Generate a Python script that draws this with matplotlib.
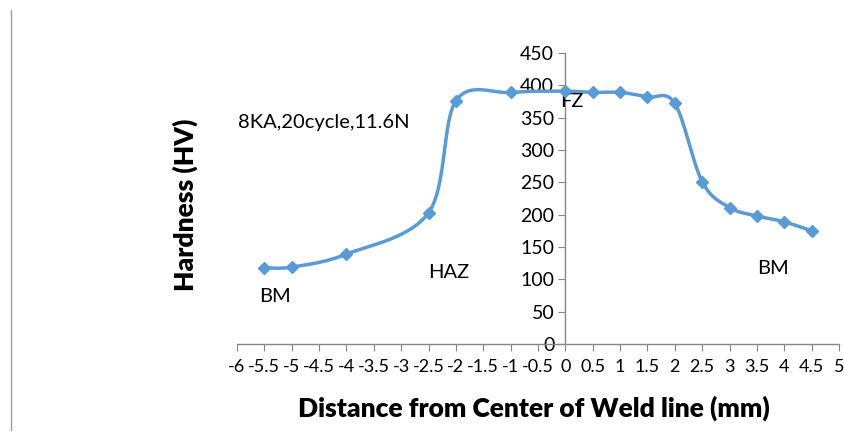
import matplotlib.pyplot as plt
from matplotlib.lines import Line2D
import numpy as np

plt.rcParams['font.family'] = ['Lato', 'DejaVu Sans']

# hardness readings across the weld
distance = [-5.5, -5, -4, -2.5, -2, -1, 0, 0.5, 1, 1.5, 2, 2.5, 3, 3.5, 4, 4.5]
hardness = [118, 119, 139, 203, 376, 389, 391, 389, 389, 382, 372, 251, 211, 198, 189, 175]

xticks = np.arange(-6, 5.01, 0.5)
xticklabels = ['%g' % t for t in xticks]
yticks = np.arange(0, 451, 50)

zones = [('BM', -5.6, 73), ('HAZ', -2.5, 110), ('FZ', -0.1, 375), ('BM', 3.5, 117)]
condition = '8KA,20cycle,11.6N'

blue = '#5B9BD5'


def excel_smooth(xs, ys, n=30):
    # bezier smoothing like a spreadsheet "smoothed line"
    p = np.column_stack([xs, ys]).astype(float)
    pts = []
    for i in range(len(p) - 1):
        p0 = p[i - 1] if i > 0 else p[i]
        p3 = p[i + 2] if i + 2 < len(p) else p[i + 1]
        c1 = p[i] + (p[i + 1] - p0) / 6
        c2 = p[i + 1] - (p3 - p[i]) / 6
        t = np.linspace(0, 1, n)[:, None]
        seg = ((1 - t) ** 3 * p[i] + 3 * (1 - t) ** 2 * t * c1
               + 3 * (1 - t) * t ** 2 * c2 + t ** 3 * p[i + 1])
        pts.append(seg)
    pts = np.vstack(pts)
    return pts[:, 0], pts[:, 1]


fig = plt.figure(figsize=(8.44, 4.41), dpi=100)
ax = fig.add_axes([237 / 844, 1 - 344 / 441, 602 / 844, 291 / 441])

sx, sy = excel_smooth(distance, hardness)
ax.plot(sx, sy, color=blue, lw=2.5, zorder=3)
ax.plot(distance, hardness, ls='none', marker='D', ms=6.5, color=blue, zorder=4)

ax.set_xlim(-6, 5)
ax.set_ylim(0, 450)
ax.spines['top'].set_visible(False)
ax.spines['right'].set_visible(False)
ax.spines['left'].set_position(('data', 0))
for s in ('left', 'bottom'):
    ax.spines[s].set_color('#868686')
    ax.spines[s].set_linewidth(1)

ax.set_xticks(xticks)
ax.set_xticklabels(xticklabels, fontsize=13)
ax.set_yticks(yticks)
ax.set_yticklabels([str(v) for v in yticks], fontsize=14)
ax.tick_params(axis='x', direction='out', length=5, color='#868686', pad=6)
ax.tick_params(axis='y', direction='out', length=5, color='#868686', pad=3)

ax.text(-5.98, 342, condition, fontsize=14.5, va='center', ha='left')
for label, x, y in zones:
    ax.text(x, y, label, fontsize=14.5, va='center', ha='left')

fig.text(534 / 844, 1 - 408 / 441, 'Distance from Center of Weld line (mm)',
         fontsize=19, fontweight='heavy', ha='center', va='center')
fig.text(185 / 844, 1 - 205 / 441, 'Hardness (HV)', fontsize=19,
         fontweight='heavy', rotation=90, ha='center', va='center')

fig.add_artist(Line2D([11 / 844, 11 / 844], [1 - 430 / 441, 1 - 10 / 441],
                      color='#a0a0a0', lw=1))

fig.savefig('out.png', dpi=100)
